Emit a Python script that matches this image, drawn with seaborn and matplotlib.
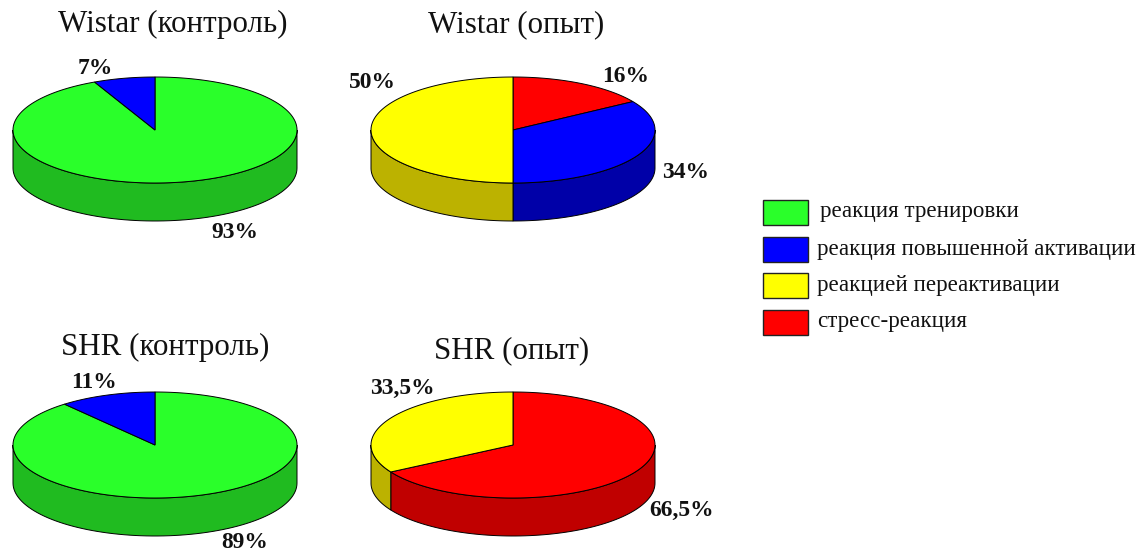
import numpy as np
import matplotlib
matplotlib.use("Agg")
import matplotlib.pyplot as plt
from matplotlib.patches import Polygon, Rectangle
import seaborn as sns

# ---- data -------------------------------------------------------------
categories = ["реакция тренировки",
              "реакция повышенной активации",
              "реакцией переактивации",
              "стресс-реакция"]

titles = ["Wistar (контроль)", "Wistar (опыт)", "SHR (контроль)", "SHR (опыт)"]

# slices of each pie, listed clockwise from 12 o'clock: (category index, percent)
wistar_ctrl_cats = [0, 1]
wistar_ctrl_vals = [93, 7]
wistar_exp_cats = [3, 1, 2]
wistar_exp_vals = [16, 34, 50]
shr_ctrl_cats = [0, 1]
shr_ctrl_vals = [89, 11]
shr_exp_cats = [3, 2]
shr_exp_vals = [66.5, 33.5]

pct_labels_ctrl_w = ["93%", "7%"]
pct_labels_exp_w = ["16%", "34%", "50%"]
pct_labels_ctrl_s = ["89%", "11%"]
pct_labels_exp_s = ["66,5%", "33,5%"]

# ---- style ------------------------------------------------------------
sns.set_theme(style="white")
plt.rcParams["font.family"] = ["Liberation Serif", "DejaVu Serif"]

top_colors = ["#2aff2a", "#0000ff", "#ffff00", "#ff0000"]
side_colors = ["#20bb20", "#0000a8", "#bcb200", "#c00000"]

W, H = 1145, 551
fig = plt.figure(figsize=(W / 100, H / 100), dpi=100)
ax = fig.add_axes([0, 0, 1, 1])
ax.set_xlim(0, W)
ax.set_ylim(H, 0)
ax.axis("off")

PX = 0.72  # points per pixel


def pie3d(ax, cx, cy, rx, ry, depth, cats, vals):
    total = float(sum(vals))
    bounds = [90.0]
    for v in vals:
        bounds.append(bounds[-1] - 360.0 * v / total)

    def pt(t, dy=0.0):
        r = np.deg2rad(t)
        return cx + rx * np.cos(r), cy - ry * np.sin(r) + dy

    # visible side wall (front half of the cylinder)
    for k, c in enumerate(cats):
        hi, lo = bounds[k], bounds[k + 1]
        a, b = max(lo, -180.0), min(hi, 0.0)
        if b <= a:
            continue
        ts = np.linspace(b, a, 80)
        top = [pt(t) for t in ts]
        bot = [pt(t, depth) for t in ts[::-1]]
        ax.add_patch(Polygon(top + bot, closed=True, facecolor=side_colors[c],
                             edgecolor="black", linewidth=0.7, zorder=2))

    # top faces
    for k, c in enumerate(cats):
        hi, lo = bounds[k], bounds[k + 1]
        n = max(int(abs(hi - lo)), 4)
        ts = np.linspace(hi, lo, n)
        poly = [(cx, cy)] + [pt(t) for t in ts]
        ax.add_patch(Polygon(poly, closed=True, facecolor=top_colors[c],
                             edgecolor="black", linewidth=0.7, zorder=3))


RX, RY, DEPTH = 142, 53, 38
pies = [
    (155, 130, wistar_ctrl_cats, wistar_ctrl_vals),
    (513, 130, wistar_exp_cats, wistar_exp_vals),
    (155, 445, shr_ctrl_cats, shr_ctrl_vals),
    (513, 445, shr_exp_cats, shr_exp_vals),
]
for cx, cy, cats, vals in pies:
    pie3d(ax, cx, cy, RX, RY, DEPTH, cats, vals)

# titles
title_pos = [(173, 32), (516, 32), (165, 355), (512, 358)]
for t, (x, y) in zip(titles, title_pos):
    ax.text(x, y, t, ha="center", va="baseline", fontsize=31 * PX, color="#111111")

# percent labels
label_sets = [
    (pct_labels_ctrl_w, [(235, 233), (95, 68)]),
    (pct_labels_exp_w, [(626, 76), (686, 172), (372, 82)]),
    (pct_labels_ctrl_s, [(245, 542), (94, 382)]),
    (pct_labels_exp_s, [(682, 510), (402, 388)]),
]
for labels, positions in label_sets:
    for lab, (x, y) in zip(labels, positions):
        ax.text(x, y, lab, ha="center", va="center", fontsize=23.5 * PX,
                fontweight="bold", color="#111111")

# legend
leg_y = [212, 249, 285, 322]
leg_text_x = [820, 817, 817, 817]
for i, name in enumerate(categories):
    ax.add_patch(Rectangle((763, leg_y[i] - 12.5), 45, 25, facecolor=top_colors[i],
                           edgecolor="#222222", linewidth=1.0, zorder=3))
    ax.text(leg_text_x[i], leg_y[i], name, ha="left", va="center",
            fontsize=23 * PX, color="#111111")

fig.savefig("out.png", dpi=100)
